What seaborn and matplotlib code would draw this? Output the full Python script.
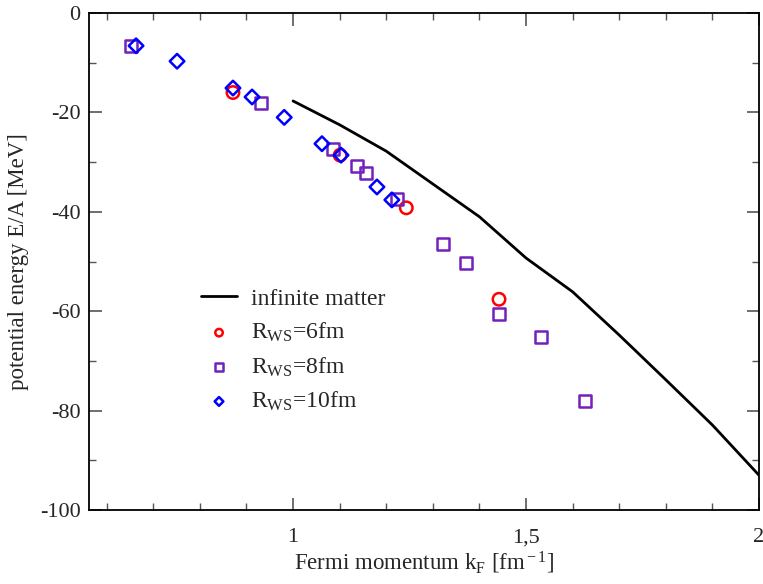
import matplotlib
matplotlib.use("Agg")
import matplotlib.pyplot as plt
import seaborn as sns
import numpy as np
import pandas as pd
from matplotlib.ticker import MultipleLocator, FuncFormatter

# ---- data ----
inf_kf = [1.0, 1.1, 1.2, 1.3, 1.4, 1.5, 1.6, 1.7, 1.8, 1.9, 2.0]
inf_e = [-17.7, -22.5, -27.8, -34.4, -41.0, -49.3, -56.1, -64.8, -73.8, -82.9, -93.0]

r6_kf = [0.871, 1.101, 1.243, 1.442]
r6_e = [-16.0, -28.6, -39.2, -57.6]

r8_kf = [0.652, 0.931, 1.086, 1.137, 1.157, 1.223, 1.322, 1.371, 1.442, 1.532, 1.627]
r8_e = [-6.6, -18.1, -27.4, -30.8, -32.2, -37.4, -46.5, -50.3, -60.6, -65.2, -78.1]

r10_kf = [0.663, 0.751, 0.871, 0.912, 0.981, 1.062, 1.103, 1.180, 1.212]
r10_e = [-6.6, -9.7, -15.1, -16.9, -21.0, -26.3, -28.6, -35.0, -37.6]

labels = ["infinite matter", r"R$_{\rm WS}$=6fm", r"R$_{\rm WS}$=8fm", r"R$_{\rm WS}$=10fm"]

# ---- style ----
sns.set_theme(style="ticks")
plt.rcParams["font.family"] = ["Liberation Serif", "DejaVu Serif"]
plt.rcParams["mathtext.fontset"] = "custom"
plt.rcParams["mathtext.rm"] = "Liberation Serif"
plt.rcParams["mathtext.it"] = "Liberation Serif:italic"

fig = plt.figure(figsize=(7.63, 5.84), dpi=100)
ax = fig.add_axes([89 / 763, 1 - 510 / 584, 670 / 763, 497 / 584])

sns.lineplot(x=inf_kf, y=inf_e, ax=ax, color="black", linewidth=2.0,
             label=labels[0], sort=False)
sns.scatterplot(x=r6_kf, y=r6_e, ax=ax, marker="o", s=80, facecolor="none",
                edgecolor="#ff0000", linewidth=1.8, label=labels[1], zorder=3)
sns.scatterplot(x=r8_kf, y=r8_e, ax=ax, marker="s", s=80, facecolor="none",
                edgecolor="#7221bc", linewidth=1.8, label=labels[2], zorder=4)
sns.scatterplot(x=r10_kf, y=r10_e, ax=ax, marker="D", s=55, facecolor="none",
                edgecolor="#0000ff", linewidth=1.8, label=labels[3], zorder=5)

ax.set_xlim(0.562, 2.0)
ax.set_ylim(-100, 0)
ax.xaxis.set_major_locator(MultipleLocator(0.5))
ax.xaxis.set_minor_locator(MultipleLocator(0.1))
ax.yaxis.set_major_locator(MultipleLocator(20))
ax.yaxis.set_minor_locator(MultipleLocator(10))


def comma_fmt(v, pos):
    s = ("%g" % v)
    return s.replace(".", ",")


ax.xaxis.set_major_formatter(FuncFormatter(comma_fmt))
ax.yaxis.set_major_formatter(FuncFormatter(lambda v, p: "%d" % v))
ax.tick_params(which="both", direction="in", top=True, right=True,
               labelsize=16, color="#555555")
ax.tick_params(axis="x", which="both", pad=13)
ax.tick_params(axis="y", which="both", pad=6)
ax.tick_params(which="major", length=9, width=1.2)
ax.tick_params(which="minor", length=5, width=1.0)
for sp in ax.spines.values():
    sp.set_linewidth(1.3)
    sp.set_color("black")

ax.set_xlabel(r"Fermi momentum k$_{\rm F}$ [fm$^{\rm -1}$]", fontsize=16.5, labelpad=2)
ax.set_ylabel("potential energy E/A [MeV]", fontsize=16.5, labelpad=8)

leg = ax.legend(loc="upper left", bbox_to_anchor=(0.15, 0.47), frameon=False,
                fontsize=17, markerscale=0.6, handlelength=1.5, handletextpad=0.6,
                labelspacing=0.47, borderpad=0)

fig.savefig("out.png", dpi=100)
